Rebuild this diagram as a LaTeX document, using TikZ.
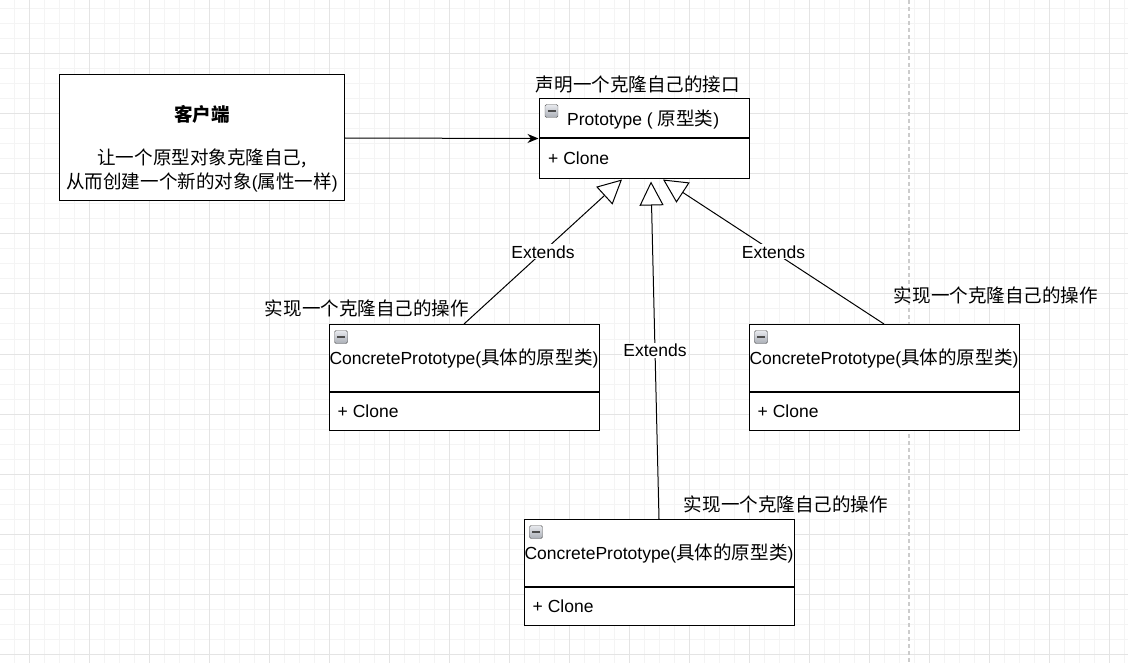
\documentclass[tikz,border=0pt]{standalone}
\usepackage{fontspec}
\setmainfont{Liberation Sans}
\newfontfamily\cjk[Scale=1.06]{Noto Sans CJK SC}
\newcommand{\zh}[1]{{\cjk #1}}
\usepackage{xcolor}
\usetikzlibrary{calc}
\usetikzlibrary {arrows.meta}
\definecolor{gridmin}{RGB}{244,244,244}
\definecolor{gridmaj}{RGB}{228,228,228}
\definecolor{icontop}{RGB}{232,234,238}
\definecolor{iconbot}{RGB}{170,174,182}

\begin{document}
\begin{tikzpicture}[x=1pt,y=-1pt,font=\fontsize{17.5}{24}\selectfont]
%
\tikzstyle{cls}=[draw,shape=rectangle,line width=1pt,inner sep=0pt,fill=white]
\tikzstyle{icon}=[draw=gray!70!black,top color=icontop,bottom color=iconbot,minimum width=13,minimum height=13,inner sep=0pt,rounded corners=1.5pt,
  path picture={\draw[line width=1.6pt,gray!60!black] ([xshift=2.5pt]path picture bounding box.west) -- ([xshift=-2.5pt]path picture bounding box.east);}]
\tikzstyle{ext}=[line width=1pt,-{Triangle[length=24pt,width=24pt,fill=white]}]
\tikzstyle{lbl}=[fill=white,inner sep=1pt,pos=0.5]
%
\useasboundingbox[fill=white] (0,0) rectangle (1128,663);
\foreach \i in {0,...,74} \draw[gridmin,line width=1pt] (14+15*\i,0) -- (14+15*\i,663);
\foreach \i in {0,...,43} \draw[gridmin,line width=1pt] (0,9+15*\i) -- (1128,9+15*\i);
\foreach \i in {0,...,18} \draw[gridmaj,line width=1pt] (29+60*\i,0) -- (29+60*\i,663);
\foreach \i in {0,...,10} \draw[gridmaj,line width=1pt] (0,54+60*\i) -- (1128,54+60*\i);
\draw[gray!40,line width=1.5pt,dash pattern=on 4pt off 3pt] (909,0) -- (909,663);
%
\node[cls,minimum width=285,minimum height=126](client) at (201.5,138){};
\node(clienttitle) at (202,114){\textbf{\zh{客户端}}};
\node[align=center](clienttext) at (202,170){\zh{让一个原型对象克隆自己,}\\\zh{从而创建一个新的对象}(\zh{属性一样})};
%
\node[cls,minimum width=210,minimum height=39](protoH) at (644,118.5){};
\node[cls,minimum width=210,minimum height=40,anchor=north](protoB) at (protoH.south){};
\node[icon](protoI) at (551.5,111){};
\node[anchor=west,inner sep=0pt](protoname) at (567,120){Prototype ( \zh{原型类})};
\node[anchor=west,inner sep=0pt](protoop) at (548,158.5){+ Clone};
\node(note0) at (638,84){\zh{声明一个克隆自己的接口}};
%
\foreach \n/\x/\y in {c1/464/324,c2/884/324,c3/659/519}{
  \node[cls,minimum width=270,minimum height=67,anchor=north](\n-head) at (\x,\y){ConcretePrototype(\zh{具体的原型类})};
  \node[cls,minimum width=270,minimum height=38,anchor=north](\n-body) at (\n-head.south){};
  \node[icon](\n-icon) at ([shift={(12.5,13)}]\n-head.north west){};
  \node[anchor=west,inner sep=0pt](\n-op) at ([xshift=9]\n-body.west){+ Clone};
}
\node(note1) at (367,308){\zh{实现一个克隆自己的操作}};
\node(note2) at (996,295){\zh{实现一个克隆自己的操作}};
\node(note3) at (786,504){\zh{实现一个克隆自己的操作}};
%
\draw[line width=1pt,-{Stealth[length=11pt,width=9pt]}] (client.east) -- (protoH.south west);
\draw[ext] (c1-head.north) -- node[lbl]{Extends} ([xshift=-22]protoB.south);
\draw[ext] (c3-head.north) -- node[lbl]{Extends} ([xshift=7,yshift=-2]protoB.south);
\draw[ext] (c2-head.north) -- node[lbl]{Extends} ([xshift=19]protoB.south);
\end{tikzpicture}
\end{document}
